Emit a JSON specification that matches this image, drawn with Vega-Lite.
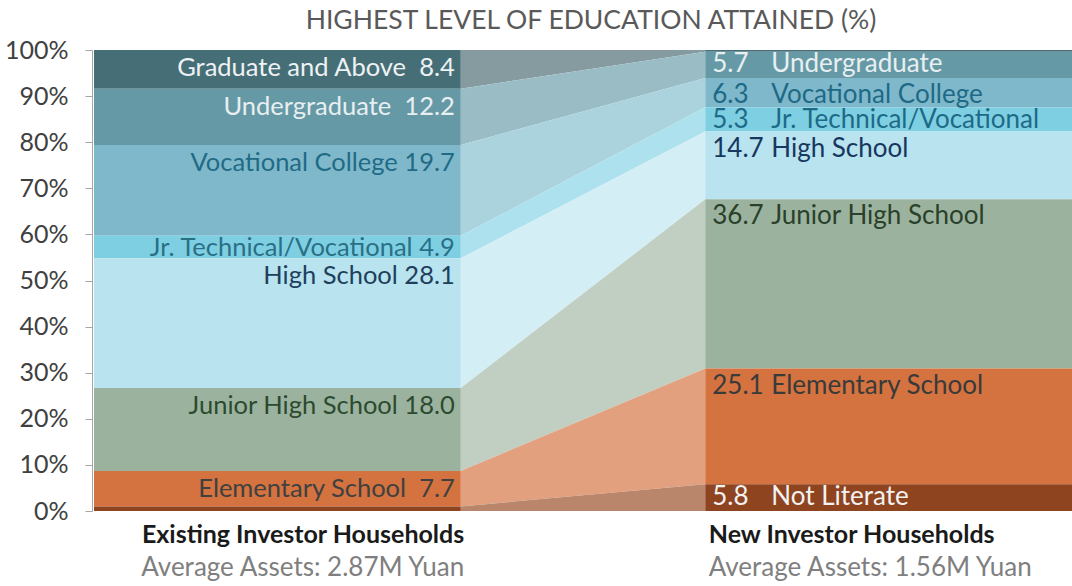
{
  "$schema": "https://vega.github.io/schema/vega-lite/v6.json",
  "width": 978,
  "height": 461,
  "autosize": "none",
  "padding": {"left": 94, "top": 50, "right": 0, "bottom": 75},
  "background": "white",
  "config": {"view": {"stroke": null}, "font": "Lato", "axis": {"grid": false}},
  "title": {
    "text": "HIGHEST LEVEL OF EDUCATION ATTAINED (%)",
    "font": "Lato",
    "fontSize": 26.5,
    "fontWeight": "normal",
    "color": "#595959",
    "anchor": "middle",
    "frame": "group",
    "baseline": "alphabetic",
    "dx": 8,
    "dy": 25,
    "offset": 8
  },
  "data": {
    "values": [
      {"group": "Existing", "category": "Graduate and Above", "value": 8.4, "rank": 8, "label": "Graduate and Above\u00a0 8.4"},
      {"group": "Existing", "category": "Undergraduate", "value": 12.2, "rank": 7, "label": "Undergraduate\u00a0 12.2"},
      {"group": "Existing", "category": "Vocational College", "value": 19.7, "rank": 6, "label": "Vocational College 19.7"},
      {"group": "Existing", "category": "Jr. Technical/Vocational", "value": 4.9, "rank": 5, "label": "Jr. Technical/Vocational 4.9"},
      {"group": "Existing", "category": "High School", "value": 28.1, "rank": 4, "label": "High School 28.1"},
      {"group": "Existing", "category": "Junior High School", "value": 18.0, "rank": 3, "label": "Junior High School 18.0"},
      {"group": "Existing", "category": "Elementary School", "value": 7.7, "rank": 2, "label": "Elementary School\u00a0 7.7"},
      {"group": "Existing", "category": "Not Literate", "value": 1.0, "rank": 1, "label": ""},
      {"group": "New", "category": "Graduate and Above", "value": 0.4, "rank": 8, "label": ""},
      {"group": "New", "category": "Undergraduate", "value": 5.7, "rank": 7, "label": "Undergraduate"},
      {"group": "New", "category": "Vocational College", "value": 6.3, "rank": 6, "label": "Vocational College"},
      {"group": "New", "category": "Jr. Technical/Vocational", "value": 5.3, "rank": 5, "label": "Jr. Technical/Vocational"},
      {"group": "New", "category": "High School", "value": 14.7, "rank": 4, "label": "High School"},
      {"group": "New", "category": "Junior High School", "value": 36.7, "rank": 3, "label": "Junior High School"},
      {"group": "New", "category": "Elementary School", "value": 25.1, "rank": 2, "label": "Elementary School"},
      {"group": "New", "category": "Not Literate", "value": 5.8, "rank": 1, "label": "Not Literate"}
    ]
  },
  "transform": [
    {"stack": "value", "groupby": ["group"], "sort": [{"field": "rank", "order": "ascending"}], "as": ["y0", "y1"]}
  ],
  "layer": [
    {
      "mark": {"type": "area", "interpolate": "linear"},
      "encoding": {
        "x": {
          "field": "group", "type": "nominal",
          "scale": {"type": "point", "domain": ["L", "Existing", "New", "R"], "padding": 0.5},
          "axis": {
            "orient": "bottom",
            "title": null, "domain": false, "ticks": false, "tickSize": 0, "labelAngle": 0,
            "labelExpr": "datum.value === 'Existing' ? 'Average Assets: 2.87M Yuan' : datum.value === 'New' ? 'Average Assets: 1.56M Yuan' : ''",
            "labelAlign": {"condition": {"test": "datum.value === 'Existing'", "value": "right"}, "value": "left"},
            "labelOffset": 3,
            "labelBaseline": "top",
            "labelPadding": 43,
            "labelFont": "Lato", "labelFontSize": 26, "labelColor": "#7f7f7f",
            "labelLimit": 600, "labelOverlap": false, "labelBound": false, "labelFlush": false
          }
        },
        "y": {
          "field": "y1", "type": "quantitative", "stack": null,
          "scale": {"domain": [0, 100], "nice": false},
          "axis": {
            "title": null, "values": [0, 10, 20, 30, 40, 50, 60, 70, 80, 90, 100],
            "labelExpr": "datum.value + '%'",
            "domainColor": "#a6a6a6", "tickColor": "#a6a6a6", "tickSize": 7, "offset": 2,
            "labelPadding": 17, "labelFont": "Lato", "labelFontSize": 25, "labelColor": "#404040"
          }
        },
        "y2": {"field": "y0"},
        "detail": {"field": "category"},
        "color": {
          "field": "category", "type": "nominal", "legend": null,
          "scale": {
            "domain": ["Graduate and Above", "Undergraduate", "Vocational College", "Jr. Technical/Vocational", "High School", "Junior High School", "Elementary School", "Not Literate"],
            "range": ["#869ba0", "#9abcc5", "#abd3de", "#ade1ee", "#d4eef6", "#c0cfc2", "#e3a07f", "#b9866c"]
          }
        }
      }
    },
    {
      "mark": {"type": "bar"},
      "encoding": {
        "x": {
          "field": "group", "type": "nominal",
          "scale": {"type": "band", "domain": ["Existing", "New"], "paddingInner": 0.4, "paddingOuter": 0},
          "axis": null
        },
        "y": {"field": "y1", "type": "quantitative", "stack": null, "scale": {"domain": [0, 100], "nice": false}},
        "y2": {"field": "y0"},
        "color": {
          "field": "category", "type": "nominal", "legend": null,
          "scale": {
            "domain": ["Graduate and Above", "Undergraduate", "Vocational College", "Jr. Technical/Vocational", "High School", "Junior High School", "Elementary School", "Not Literate"],
            "range": ["#466e77", "#6699a6", "#80b8cb", "#7fcfe3", "#b8e3ef", "#9bb39e", "#d4733f", "#8f4420"]
          }
        }
      }
    },
    {
      "transform": [{"filter": "datum.group === 'Existing' && datum.label !== '' && datum.value >= 7"}],
      "mark": {"type": "text", "align": "right", "baseline": "middle", "dx": -6, "dy": 18, "font": "Lato", "fontSize": 25.5},
      "encoding": {
        "x": {
          "field": "group", "type": "nominal",
          "scale": {"type": "point", "domain": ["L", "Existing", "New", "R"], "padding": 0.5},
          "axis": {
            "orient": "bottom",
            "title": null, "domain": false, "ticks": false, "tickSize": 0, "labelAngle": 0,
            "labelExpr": "datum.value === 'Existing' ? 'Existing Investor Households' : datum.value === 'New' ? 'New Investor Households' : ''",
            "labelAlign": {"condition": {"test": "datum.value === 'Existing'", "value": "right"}, "value": "left"},
            "labelOffset": 3,
            "labelBaseline": "top",
            "labelPadding": 11,
            "labelFont": "Lato", "labelFontSize": 25, "labelFontWeight": "bold", "labelColor": "#1a1a1a",
            "labelLimit": 600, "labelOverlap": false, "labelBound": false, "labelFlush": false
          }
        },
        "y": {"field": "y1", "type": "quantitative", "stack": null},
        "text": {"field": "label"},
        "color": {
          "field": "category", "type": "nominal", "legend": null,
          "scale": {
            "domain": ["Graduate and Above", "Undergraduate", "Vocational College", "Jr. Technical/Vocational", "High School", "Junior High School", "Elementary School", "Not Literate"],
            "range": ["#eef2f3", "#e8eff1", "#1f6b85", "#2a6f86", "#1f3f5c", "#2c4a2f", "#404040", "#f2f2f2"]
          }
        }
      }
    },
    {
      "transform": [{"filter": "datum.group === 'Existing' && datum.label !== '' && datum.value < 7"}],
      "mark": {"type": "text", "align": "right", "baseline": "middle", "dx": -6, "dy": 12, "font": "Lato", "fontSize": 25.5},
      "encoding": {
        "x": {"field": "group", "type": "nominal", "scale": {"type": "point", "domain": ["L", "Existing", "New", "R"], "padding": 0.5}, "axis": null},
        "y": {"field": "y1", "type": "quantitative", "stack": null},
        "text": {"field": "label"},
        "color": {
          "field": "category", "type": "nominal", "legend": null,
          "scale": {
            "domain": ["Graduate and Above", "Undergraduate", "Vocational College", "Jr. Technical/Vocational", "High School", "Junior High School", "Elementary School", "Not Literate"],
            "range": ["#eef2f3", "#e8eff1", "#1f6b85", "#2a6f86", "#1f3f5c", "#2c4a2f", "#404040", "#f2f2f2"]
          }
        }
      }
    },
    {
      "transform": [{"filter": "datum.group === 'New' && datum.label !== '' && datum.value >= 6"}],
      "mark": {"type": "text", "align": "left", "baseline": "middle", "dx": 7, "dy": 17, "font": "Lato", "fontSize": 26},
      "encoding": {
        "x": {"field": "group", "type": "nominal", "scale": {"type": "point", "domain": ["L", "Existing", "New", "R"], "padding": 0.5}, "axis": null},
        "y": {"field": "y1", "type": "quantitative", "stack": null},
        "text": {"field": "value", "type": "quantitative", "format": ".1f"},
        "color": {
          "field": "category", "type": "nominal", "legend": null,
          "scale": {
            "domain": ["Graduate and Above", "Undergraduate", "Vocational College", "Jr. Technical/Vocational", "High School", "Junior High School", "Elementary School", "Not Literate"],
            "range": ["#eef2f3", "#e8eff1", "#1d6a86", "#1d6a86", "#17375e", "#2a402a", "#3a3a3a", "#f2f2f2"]
          }
        }
      }
    },
    {
      "transform": [{"filter": "datum.group === 'New' && datum.label !== '' && datum.value < 6"}],
      "mark": {"type": "text", "align": "left", "baseline": "middle", "dx": 7, "dy": 12.5, "font": "Lato", "fontSize": 26},
      "encoding": {
        "x": {"field": "group", "type": "nominal", "scale": {"type": "point", "domain": ["L", "Existing", "New", "R"], "padding": 0.5}, "axis": null},
        "y": {"field": "y1", "type": "quantitative", "stack": null},
        "text": {"field": "value", "type": "quantitative", "format": ".1f"},
        "color": {
          "field": "category", "type": "nominal", "legend": null,
          "scale": {
            "domain": ["Graduate and Above", "Undergraduate", "Vocational College", "Jr. Technical/Vocational", "High School", "Junior High School", "Elementary School", "Not Literate"],
            "range": ["#eef2f3", "#e8eff1", "#1d6a86", "#1d6a86", "#17375e", "#2a402a", "#3a3a3a", "#f2f2f2"]
          }
        }
      }
    },
    {
      "transform": [{"filter": "datum.group === 'New' && datum.label !== '' && datum.value >= 6"}],
      "mark": {"type": "text", "align": "left", "baseline": "middle", "dx": 66, "dy": 17, "font": "Lato", "fontSize": 26},
      "encoding": {
        "x": {"field": "group", "type": "nominal", "scale": {"type": "point", "domain": ["L", "Existing", "New", "R"], "padding": 0.5}, "axis": null},
        "y": {"field": "y1", "type": "quantitative", "stack": null},
        "text": {"field": "label"},
        "color": {
          "field": "category", "type": "nominal", "legend": null,
          "scale": {
            "domain": ["Graduate and Above", "Undergraduate", "Vocational College", "Jr. Technical/Vocational", "High School", "Junior High School", "Elementary School", "Not Literate"],
            "range": ["#eef2f3", "#e8eff1", "#1d6a86", "#1d6a86", "#17375e", "#2a402a", "#3a3a3a", "#f2f2f2"]
          }
        }
      }
    },
    {
      "transform": [{"filter": "datum.group === 'New' && datum.label !== '' && datum.value < 6"}],
      "mark": {"type": "text", "align": "left", "baseline": "middle", "dx": 66, "dy": 12.5, "font": "Lato", "fontSize": 26},
      "encoding": {
        "x": {"field": "group", "type": "nominal", "scale": {"type": "point", "domain": ["L", "Existing", "New", "R"], "padding": 0.5}, "axis": null},
        "y": {"field": "y1", "type": "quantitative", "stack": null},
        "text": {"field": "label"},
        "color": {
          "field": "category", "type": "nominal", "legend": null,
          "scale": {
            "domain": ["Graduate and Above", "Undergraduate", "Vocational College", "Jr. Technical/Vocational", "High School", "Junior High School", "Elementary School", "Not Literate"],
            "range": ["#eef2f3", "#e8eff1", "#1d6a86", "#1d6a86", "#17375e", "#2a402a", "#3a3a3a", "#f2f2f2"]
          }
        }
      }
    }
  ],
  "resolve": {"scale": {"x": "independent", "color": "independent"}, "axis": {"x": "independent"}}
}
